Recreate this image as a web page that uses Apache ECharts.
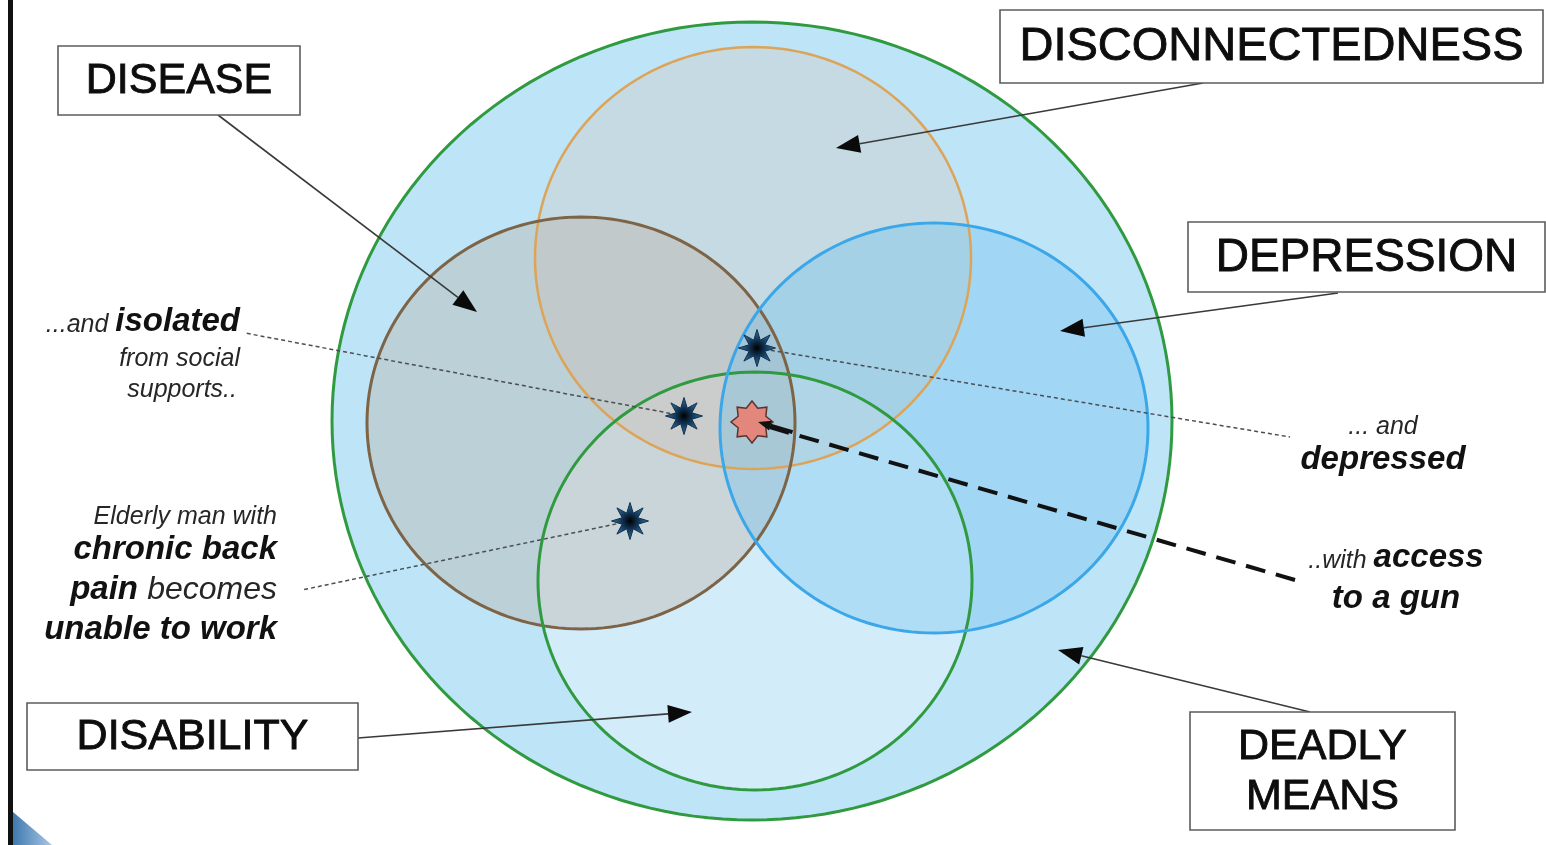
<!DOCTYPE html>
<html><head><meta charset="utf-8">
<script src="https://cdn.jsdelivr.net/npm/echarts@6/dist/echarts.min.js"></script>
<style>html,body{margin:0;padding:0;background:#fff;overflow:hidden}#c{width:1546px;height:845px}</style>
</head><body><div id="c"></div>
<script>
// ---------- data ----------
const setNames    = ['DEADLY MEANS','DISABILITY','DISCONNECTEDNESS','DISEASE','DEPRESSION'];
const setCenterX  = [752, 755, 753, 581, 934];
const setCenterY  = [421, 581, 258, 423, 428];
const setRadiusX  = [420, 217, 218, 214, 214];
const setRadiusY  = [399, 209, 211, 206, 205];

const boxLabels   = ['DISEASE','DISCONNECTEDNESS','DEPRESSION','DISABILITY','DEADLY\nMEANS'];
const boxLeft     = [58, 1000, 1188, 27, 1190];
const boxTop      = [46, 10, 222, 703, 712];
const boxRight    = [300, 1543, 1545, 358, 1455];
const boxBottom   = [115, 83, 292, 770, 830];

const arrowFromX  = [218, 1203, 1338, 358, 1310];
const arrowFromY  = [115, 83, 293, 738, 712];
const arrowToX    = [477, 836, 1060, 692, 1058];
const arrowToY    = [312, 148, 331, 712, 650];

const caseNames   = ['chronic pain','isolated','depressed','access to a gun'];
const caseX       = [630, 684, 757, 752];
const caseY       = [521, 416, 348, 422];
const noteEndX    = [302, 245, 1290, 1295];
const noteEndY    = [590, 333, 437, 580];

const noteTexts   = ['{r|...and }{b|isolated}','{r|from social}','{r|supports..}',
                     '{r|... and}','{b|depressed}',
                     '{r|..with }{b|access}','{b|to a gun}',
                     '{r|Elderly man with}','{b|chronic back}','{b|pain }{m|becomes}','{b|unable to work}'];
const noteX       = [240, 240, 237, 1383, 1383, 1396, 1396, 277, 277, 277, 277];
const noteY       = [320, 354, 385, 422, 458, 556, 597, 512, 548, 588, 628];
const noteAlign   = ['right','right','right','center','center','center','center','right','right','right','right'];

// ---------- styles ----------
const setFill   = ['#bee4f8','rgba(255,255,255,0.32)','rgba(210,200,180,0.32)','rgba(185,172,160,0.36)','rgba(100,190,240,0.32)'];
const setStroke = ['#2f9a3f','#2f9a3f','#dca458','#7d6446','#3ba7e8'];
const setWidth  = [3, 3, 2.5, 3, 3];
const strokeOrder = [0, 2, 3, 1, 4];

function hasFont(f){
  const c = document.createElement('canvas').getContext('2d');
  c.font = '40px monospace'; const a = c.measureText('DISCONNECTEDNESS').width;
  c.font = '40px "' + f + '", monospace'; const b = c.measureText('DISCONNECTEDNESS').width;
  return a !== b;
}
const NARROW = hasFont('Liberation Sans Narrow');
const boxFamily = NARROW ? '"Liberation Sans Narrow", "Liberation Sans", Arial, sans-serif' : '"Liberation Sans", Arial, sans-serif';
const boxScale = NARROW ? 1 : 0.84;
const boxSize = [51, 56, 55, 51, 51];
const FAM = '"Liberation Sans", Arial, Helvetica, sans-serif';

function ellipsePts(api, cx, cy, rx, ry){
  const pts = [];
  for (let k = 0; k < 180; k++){
    const t = k / 180 * Math.PI * 2;
    pts.push(api.coord([cx + rx * Math.cos(t), cy + ry * Math.sin(t)]));
  }
  return pts;
}
function starPts(c, n, ro, ri, rot){
  const pts = [];
  for (let k = 0; k < n * 2; k++){
    const r = k % 2 ? ri : ro;
    const t = rot + k * Math.PI / n;
    pts.push([c[0] + r * Math.cos(t), c[1] + r * Math.sin(t)]);
  }
  return pts;
}
function arrowHead(p1, p2, len, wid){
  const dx = p2[0]-p1[0], dy = p2[1]-p1[1];
  const L = Math.hypot(dx, dy), ux = dx/L, uy = dy/L;
  const bx = p2[0]-ux*len, by = p2[1]-uy*len;
  return {base:[bx,by], pts:[[p2[0],p2[1]],[bx - uy*wid/2, by + ux*wid/2],[bx + uy*wid/2, by - ux*wid/2]]};
}

const chart = echarts.init(document.getElementById('c'), null, {renderer:'canvas'});
const option = {
  animation: false,
  backgroundColor: '#ffffff',
  grid: {left:0, right:0, top:0, bottom:0},
  xAxis: {type:'value', min:0, max:1546, show:false},
  yAxis: {type:'value', min:0, max:845, inverse:true, show:false},
  graphic: [
    {type:'rect', shape:{x:8, y:0, width:5, height:845}, style:{fill:'#111'}, z:100},
    {type:'polygon', shape:{points:[[13,812],[52,845],[13,845]]},
      style:{fill:{type:'linear',x:0,y:0,x2:1,y2:0,colorStops:[{offset:0,color:'#3f79b0'},{offset:1,color:'#a9c8e4'}]}}, z:100}
  ],
  series: [
    { // set fills
      type:'custom', clip:false, silent:true, z:1,
      data: setNames.map((n,i)=>[setCenterX[i], setCenterY[i], setRadiusX[i], setRadiusY[i], i]),
      renderItem(params, api){
        const i = api.value(4);
        return {type:'polygon', shape:{points: ellipsePts(api, api.value(0), api.value(1), api.value(2), api.value(3))},
          style:{fill:setFill[i], stroke:null}};
      }
    },
    { // set outlines
      type:'custom', clip:false, silent:true, z:2,
      data: strokeOrder.map(i=>[setCenterX[i], setCenterY[i], setRadiusX[i], setRadiusY[i], i]),
      renderItem(params, api){
        const i = api.value(4);
        return {type:'polygon', shape:{points: ellipsePts(api, api.value(0), api.value(1), api.value(2), api.value(3))},
          style:{fill:null, stroke:setStroke[i], lineWidth:setWidth[i]}};
      }
    },
    { // label arrows
      type:'custom', clip:false, silent:true, z:3,
      data: arrowFromX.map((x,i)=>[x, arrowFromY[i], arrowToX[i], arrowToY[i]]),
      renderItem(params, api){
        const p1 = api.coord([api.value(0), api.value(1)]);
        const p2 = api.coord([api.value(2), api.value(3)]);
        const h = arrowHead(p1, p2, 24, 18);
        return {type:'group', children:[
          {type:'line', shape:{x1:p1[0], y1:p1[1], x2:h.base[0], y2:h.base[1]}, style:{stroke:'#3a3a3a', lineWidth:1.6}},
          {type:'polygon', shape:{points:h.pts}, style:{fill:'#0a0a0a'}}
        ]};
      }
    },
    { // case note lines
      type:'custom', clip:false, silent:true, z:4,
      data: caseNames.map((n,i)=>[caseX[i], caseY[i], noteEndX[i], noteEndY[i], i]),
      renderItem(params, api){
        const i = api.value(4);
        const p1 = api.coord([api.value(0), api.value(1)]);
        const p2 = api.coord([api.value(2), api.value(3)]);
        if (i === 3){
          const h = arrowHead(p2, p1, 14, 10);
          return {type:'group', children:[
            {type:'line', shape:{x1:p2[0], y1:p2[1], x2:h.base[0], y2:h.base[1]}, style:{stroke:'#111', lineWidth:4, lineDash:[20,11]}},
            {type:'polygon', shape:{points:h.pts}, style:{fill:'#111'}}
          ]};
        }
        return {type:'line', shape:{x1:p1[0], y1:p1[1], x2:p2[0], y2:p2[1]}, style:{stroke:'#4a4f55', lineWidth:1.5, lineDash:[4,3]}};
      }
    },
    { // case stars
      type:'custom', clip:false, silent:true, z:5,
      data: caseNames.map((n,i)=>[caseX[i], caseY[i], i]),
      renderItem(params, api){
        const i = api.value(2);
        const c = api.coord([api.value(0), api.value(1)]);
        if (i === 3){
          return {type:'polygon', z2:1, shape:{points: starPts(c, 8, 21, 15, -Math.PI/2)},
            style:{fill:'#e3877d', stroke:'#5b3430', lineWidth:1.5}};
        }
        return {type:'polygon', shape:{points: starPts(c, 8, 18.5, 8.5, -Math.PI/2)},
          style:{fill:{type:'radial', x:0.5, y:0.5, r:0.5, colorStops:[{offset:0,color:'#000'},{offset:0.4,color:'#0f3150'},{offset:1,color:'#3a76a6'}]},
                 stroke:'#10304c', lineWidth:1}};
      }
    },
    { // gun arrow tip on top of pink star
      type:'custom', clip:false, silent:true, z:6,
      data: [[caseX[3], caseY[3], noteEndX[3], noteEndY[3]]],
      renderItem(params, api){
        const p1 = api.coord([api.value(0)+6, api.value(1)]);
        const p2 = api.coord([api.value(2), api.value(3)]);
        const h = arrowHead(p2, p1, 13, 10);
        const s = arrowHead(p2, p1, 36, 4);
        return {type:'group', children:[
          {type:'line', shape:{x1:s.base[0], y1:s.base[1], x2:h.base[0], y2:h.base[1]}, style:{stroke:'#111', lineWidth:4}},
          {type:'polygon', shape:{points:h.pts}, style:{fill:'#111'}}
        ]};
      }
    },
    { // label boxes
      type:'custom', clip:false, silent:true, z:7,
      data: boxLabels.map((n,i)=>[boxLeft[i], boxTop[i], boxRight[i], boxBottom[i], i]),
      renderItem(params, api){
        const i = api.value(4);
        const p0 = api.coord([api.value(0), api.value(1)]);
        const p1 = api.coord([api.value(2), api.value(3)]);
        const fs = Math.round(boxSize[i] * boxScale);
        return {type:'group', children:[
          {type:'rect', shape:{x:p0[0], y:p0[1], width:p1[0]-p0[0], height:p1[1]-p0[1]}, style:{fill:'#fff', stroke:'#5c5c5c', lineWidth:1.6}},
          {type:'text', style:{text:boxLabels[i], x:(p0[0]+p1[0])/2, y:(p0[1]+p1[1])/2 + 1, align:'center', verticalAlign:'middle',
            fontFamily:boxFamily, fontSize:fs, lineHeight:50, fill:'#0d0d0d', stroke:'#0d0d0d', lineWidth:0.9}}
        ]};
      }
    },
    { // case notes
      type:'custom', clip:false, silent:true, z:8,
      data: noteTexts.map((t,i)=>[noteX[i], noteY[i], i]),
      renderItem(params, api){
        const i = api.value(2);
        const c = api.coord([api.value(0), api.value(1)]);
        return {type:'text', style:{text:noteTexts[i], x:c[0], y:c[1], align:noteAlign[i], verticalAlign:'middle',
          rich:{
            r:{fontFamily:FAM, fontStyle:'italic', fontSize:25, fill:'#262626', verticalAlign:'bottom', lineHeight:36},
            b:{fontFamily:FAM, fontStyle:'italic', fontWeight:'bold', fontSize:33, fill:'#111', verticalAlign:'bottom', lineHeight:36},
            m:{fontFamily:FAM, fontStyle:'italic', fontSize:32, fill:'#262626', verticalAlign:'bottom', lineHeight:36}
          }}};
      }
    }
  ]
};
chart.setOption(option);
</script>
</body></html>
